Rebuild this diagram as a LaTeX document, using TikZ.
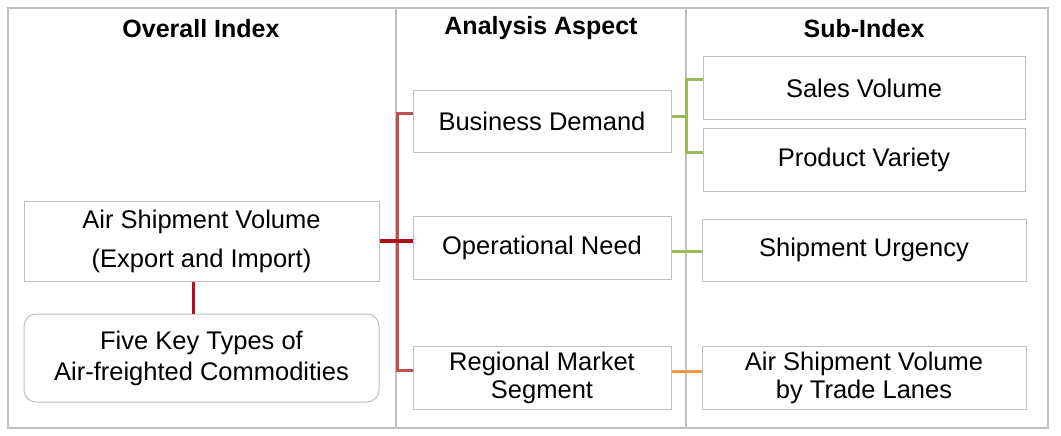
\documentclass[tikz,border=0pt]{standalone}
\usepackage{fontspec}
\setmainfont{Liberation Sans}
\usetikzlibrary{calc}
\definecolor{framegray}{HTML}{BFBFBF}
\definecolor{boxgray}{HTML}{C0C0C0}
\definecolor{lred}{HTML}{C0504D}
\definecolor{dred}{HTML}{B0121B}
\definecolor{lgreen}{HTML}{9BBB59}
\definecolor{lorange}{HTML}{F79646}
\tikzset{
  cell/.style={draw=boxgray, line width=1pt, fill=white, align=center, inner sep=0pt,
    font=\fontsize{25.5}{30}\selectfont, text=black},
  head/.style={font=\fontsize{25}{30}\selectfont\bfseries, text=black, inner sep=0pt},
  frame/.style={draw=framegray, line width=2pt},
  redline/.style={draw=lred, line width=3pt},
  darkline/.style={draw=dred, line width=4pt},
  greenline/.style={draw=lgreen, line width=3pt},
  orangeline/.style={draw=lorange, line width=3pt}
}
\begin{document}
\begin{tikzpicture}[x=1pt,y=-1pt]
\useasboundingbox (0,0) rectangle (1061,436);
\fill[white] (0,0) rectangle (1061,436);
% frame and column dividers
\draw[frame] (8,8) rectangle (1048,428);
\draw[frame] (396,8) -- (396,428);
\draw[frame] (686,8) -- (686,428);
% headers
\node[head] (h1) at (201,28.5) {Overall Index};
\node[head] (h2) at (541,28.5) {Analysis Aspect};
\node[head] (h3) at (864,28.5) {Sub-Index};
% nodes
\node[cell, minimum width=355pt, minimum height=80pt,
  font=\fontsize{25.5}{39}\selectfont] (asv) at (201.5,241) {Air Shipment Volume\\(Export and Import)};
\node[cell, rounded corners=12pt, minimum width=355pt, minimum height=88pt,
  font=\fontsize{25.5}{31}\selectfont] (five) at (201.5,358) {Five Key Types of\\Air-freighted Commodities};
\node[cell, minimum width=258pt, minimum height=61pt] (bd) at (542,121.5) {Business Demand};
\node[cell, minimum width=258pt, minimum height=63pt] (on) at (542,247.5) {Operational Need};
\node[cell, minimum width=258pt, minimum height=63pt,
  font=\fontsize{25.5}{28}\selectfont] (rms) at (542,377.5) {Regional Market\\Segment};
\node[cell, minimum width=322pt, minimum height=62pt] (sv) at (864,88) {Sales Volume};
\node[cell, minimum width=322pt, minimum height=63pt] (pv) at (864,159.5) {Product Variety};
\node[cell, minimum width=324pt, minimum height=62pt] (su) at (864,250) {Shipment Urgency};
\node[cell, minimum width=324pt, minimum height=63pt,
  font=\fontsize{25.5}{28}\selectfont] (tl) at (864,377.5) {Air Shipment Volume\\by Trade Lanes};
% connector anchor points
\coordinate (bdw) at ([yshift=8.5pt]bd.west);
\coordinate (rmsw) at ([yshift=7.5pt]rms.west);
\coordinate (rx) at (397,0);
\coordinate (gx) at (686,0);
\coordinate (ax) at (193,0);
\coordinate (bde) at ([yshift=5.5pt]bd.east);
\coordinate (svw) at ([yshift=8pt]sv.west);
\coordinate (pvw) at ([yshift=7.5pt]pv.west);
\coordinate (one) at ([yshift=-3.5pt]on.east);
\coordinate (rmse) at ([yshift=6.5pt]rms.east);
% red bracket
\draw[redline] (bdw) -- (bdw -| rx) -- (rmsw -| rx) -- (rmsw);
\draw[darkline] (asv.east) -- (asv.east -| on.west);
\draw[darkline, line width=3pt] (asv.south -| ax) -- (five.north -| ax);
% green bracket
\draw[greenline] (bde) -- (bde -| gx);
\draw[greenline] (svw) -- (svw -| gx) -- (pvw -| gx) -- (pvw);
\draw[greenline] (one) -- (one -| su.west);
\draw[orangeline] (rmse) -- (rmse -| tl.west);
\end{tikzpicture}
\end{document}
